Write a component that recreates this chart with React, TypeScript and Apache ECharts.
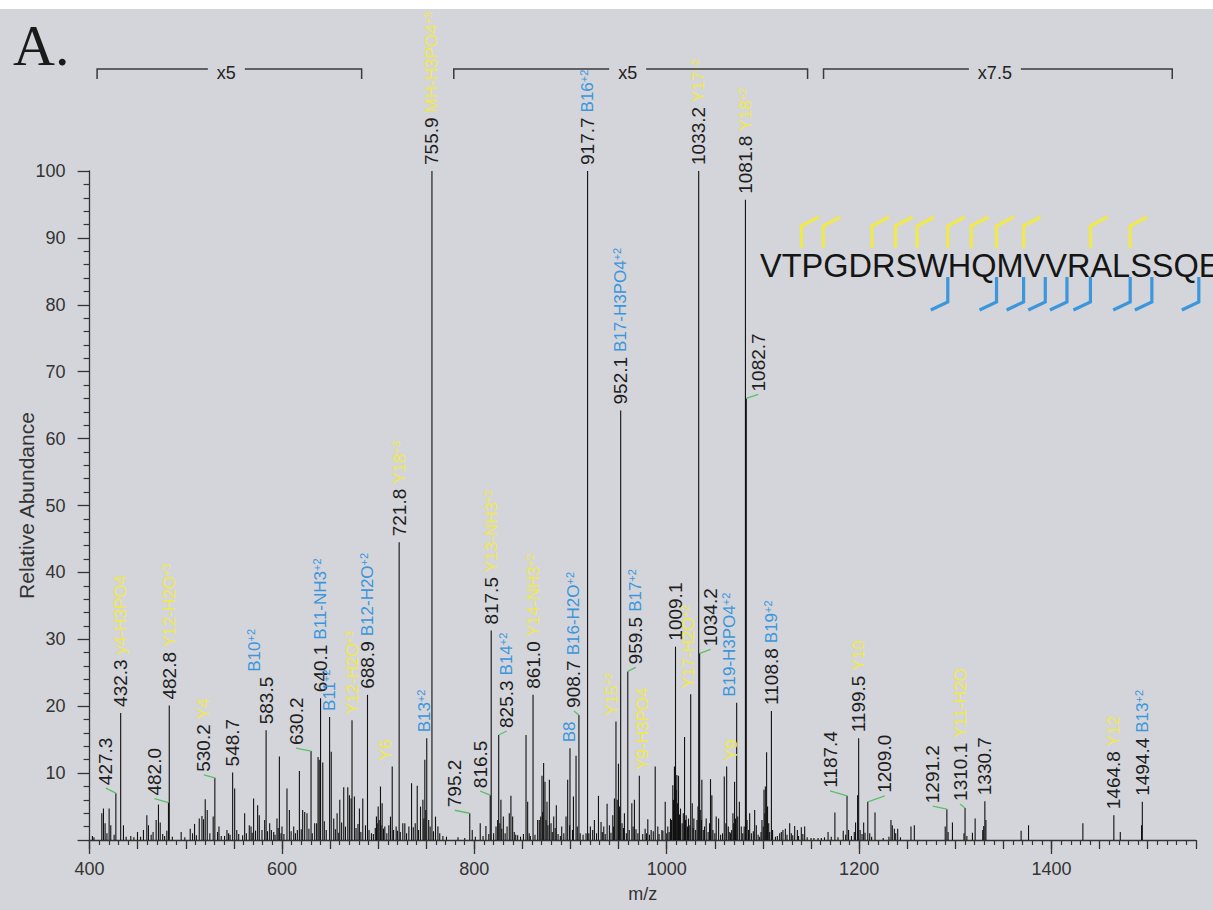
import React, { useEffect, useRef } from "react";
import * as echarts from "echarts";

const BG = "#d4d5da";
const YELLOW = "#efe84e";
const BLUE = "#3b96dc";
const GREEN = "#5cbf67";
const INK = "#1e1e1e";
const AXIS = "#333333";
const FONT = "'Liberation Sans', Arial, sans-serif";

// ---- labeled peaks ----
const labelMz = [427.3, 432.3, 482.0, 482.8, 530.2, 548.7, 583.5, 630.2, 640.1, 649.5, 672.8, 688.9, 714.6, 721.8, 750.5, 755.9, 795.2, 816.5, 817.5, 825.3, 861.0, 899.4, 908.7, 917.7, 947.2, 952.1, 959.5, 971.5, 1009.1, 1024.9, 1033.2, 1034.2, 1062.3, 1072.7, 1081.8, 1082.7, 1108.8, 1187.4, 1199.5, 1209.0, 1291.2, 1310.1, 1330.7, 1464.8, 1494.4];
const labelInt = [7.0, 19.0, 5.6, 20.1, 9.3, 10.1, 16.4, 13.3, 21.2, 18.4, 17.9, 21.7, 11.0, 44.5, 15.2, 100, 4.0, 6.7, 31.3, 15.7, 21.7, 13.7, 18.7, 100, 17.7, 64.2, 25.2, 9.6, 28.9, 21.8, 100, 27.9, 11.0, 20.5, 95.7, 66.0, 19.3, 6.6, 15.2, 5.7, 4.6, 4.8, 5.8, 3.7, 5.7];
const labelShowNum = [1, 1, 1, 1, 1, 1, 1, 1, 1, 0, 0, 1, 0, 1, 0, 1, 1, 1, 1, 1, 1, 0, 1, 1, 0, 1, 1, 0, 1, 0, 1, 1, 0, 0, 1, 1, 1, 1, 1, 1, 1, 1, 1, 1, 1];
const labelAnn = ["", "y4-H3PO4", "", "Y12-H2O", "Y4", "", "B10", "", "B11-NH3", "B11", "Y12-H2O", "B12-H2O", "Y6", "Y18", "B13", "MH-H3PO4", "", "", "Y13-NH3", "B14", "Y14-NH3", "B8", "B16-H2O", "B16", "Y15", "B17-H3PO4", "B17", "Y9-H3PO4", "", "Y17-H2O", "Y17", "", "Y9", "B19-H3PO4", "Y18", "", "B19", "", "Y10", "", "", "Y11-H2O", "", "Y12", "B13"];
const labelSup = ["", "", "", "+3", "", "", "+2", "", "+2", "+2", "+3", "+2", "", "+3", "+2", "+3", "", "", "+2", "+2", "+2", "", "+2", "+2", "+2", "+2", "+2", "", "", "+2", "+2", "", "", "+2", "+2", "", "+2", "", "", "", "", "", "", "", "+2"];
const labelIon = ["", "y", "", "y", "y", "", "b", "", "b", "b", "y", "b", "y", "y", "b", "y", "", "", "y", "b", "y", "b", "b", "b", "y", "b", "b", "y", "", "y", "y", "", "y", "b", "y", "", "b", "", "y", "", "", "y", "", "y", "b"];

// ---- unlabeled peaks ----
const noiseMz = [402.9, 404.5, 412.7, 414.4, 416.1, 418.0, 420.3, 422.0, 425.5, 435.2, 438.0, 442.8, 446.0, 449.8, 453.0, 456.0, 459.5, 461.2, 464.0, 466.0, 469.2, 471.6, 473.4, 476.0, 478.0, 480.3, 486.0, 495.2, 499.0, 504.6, 507.0, 509.1, 511.0, 514.0, 516.8, 518.5, 520.2, 522.3, 525.0, 528.5, 533.0, 534.5, 536.9, 540.3, 542.8, 544.5, 546.0, 550.8, 553.0, 555.0, 559.1, 561.2, 563.0, 566.0, 567.8, 569.0, 570.5, 572.5, 574.7, 576.4, 579.2, 582.0, 585.0, 587.2, 589.0, 591.4, 592.8, 594.8, 596.0, 597.3, 599.0, 600.0, 602.0, 605.2, 607.7, 609.5, 612.2, 614.0, 616.0, 618.1, 620.0, 621.5, 623.6, 626.0, 628.0, 631.5, 634.0, 636.0, 637.5, 638.7, 642.4, 644.0, 646.0, 651.2, 653.8, 655.5, 657.3, 659.0, 660.1, 662.0, 664.2, 666.0, 668.4, 670.1, 671.9, 675.3, 677.0, 679.0, 680.5, 682.0, 684.0, 686.8, 690.5, 693.0, 695.0, 697.0, 698.2, 699.0, 700.0, 701.0, 702.4, 703.0, 704.1, 705.5, 706.9, 709.0, 711.1, 712.8, 716.0, 718.7, 720.0, 723.0, 725.6, 727.7, 729.5, 731.9, 734.7, 736.5, 738.5, 740.6, 742.0, 744.0, 746.5, 747.5, 748.5, 749.5, 752.5, 754.0, 757.5, 759.6, 762.1, 764.0, 767.3, 771.0, 783.0, 790.0, 797.8, 801.0, 806.1, 809.0, 812.0, 815.0, 820.0, 822.5, 824.2, 826.5, 827.6, 828.5, 830.1, 832.0, 834.0, 836.3, 838.0, 839.8, 841.5, 843.0, 845.0, 848.0, 851.0, 853.7, 855.4, 857.0, 858.2, 863.0, 865.8, 867.5, 869.0, 870.3, 871.0, 872.0, 873.4, 874.5, 875.5, 876.5, 878.0, 879.7, 881.0, 882.5, 884.0, 885.2, 887.0, 889.4, 890.8, 893.0, 895.3, 897.0, 899.0, 902.0, 903.0, 905.7, 907.0, 910.0, 913.0, 916.1, 919.0, 920.6, 923.0, 924.8, 927.0, 929.0, 931.7, 933.0, 934.5, 936.0, 938.0, 940.4, 942.0, 943.9, 944.8, 945.6, 948.5, 949.8, 950.5, 951.0, 953.5, 955.0, 956.0, 958.0, 961.0, 963.7, 965.0, 966.4, 968.0, 970.0, 975.0, 977.5, 979.0, 980.3, 982.0, 983.8, 986.0, 988.0, 990.7, 992.0, 994.9, 996.0, 998.4, 1000.0, 1001.1, 1002.5, 1003.9, 1005.0, 1006.3, 1007.0, 1008.0, 1009.8, 1010.5, 1011.3, 1012.2, 1013.2, 1014.3, 1016.0, 1017.2, 1018.5, 1019.5, 1020.2, 1021.5, 1022.6, 1024.0, 1026.5, 1027.5, 1028.2, 1030.0, 1031.5, 1032.5, 1034.8, 1036.0, 1036.5, 1038.0, 1039.3, 1041.0, 1043.0, 1044.5, 1045.5, 1046.9, 1048.0, 1050.0, 1051.4, 1053.9, 1056.0, 1058.0, 1059.8, 1061.5, 1064.0, 1065.5, 1066.4, 1067.5, 1068.8, 1069.6, 1070.5, 1071.5, 1073.8, 1075.5, 1077.5, 1079.0, 1080.5, 1083.5, 1085.0, 1086.2, 1088.0, 1090.0, 1091.4, 1093.1, 1095.0, 1096.6, 1098.0, 1099.0, 1100.3, 1101.1, 1102.0, 1102.5, 1103.8, 1104.8, 1106.0, 1107.0, 1110.0, 1113.0, 1115.0, 1117.4, 1119.1, 1120.8, 1123.3, 1125.0, 1127.8, 1129.5, 1131.0, 1133.0, 1135.8, 1137.0, 1139.9, 1141.5, 1143.4, 1146.0, 1150.0, 1153.0, 1157.3, 1160.7, 1164.0, 1167.7, 1171.0, 1174.8, 1178.0, 1183.5, 1186.0, 1189.0, 1192.0, 1195.0, 1196.3, 1198.4, 1201.0, 1203.0, 1204.7, 1206.1, 1211.0, 1213.0, 1216.5, 1225.0, 1231.0, 1233.1, 1234.5, 1236.6, 1238.0, 1240.1, 1243.0, 1253.9, 1257.4, 1289.5, 1292.5, 1297.0, 1309.0, 1312.0, 1317.8, 1320.6, 1328.5, 1329.5, 1331.8, 1368.4, 1376.1, 1432.6, 1471.5, 1493.6];
const noiseInt = [0.6, 0.4, 4.0, 4.7, 2.5, 1.0, 4.7, 2.2, 0.8, 2.2, 0.5, 0.6, 0.4, 1.2, 0.5, 1.5, 3.7, 2.2, 0.8, 1.2, 3.0, 5.3, 2.6, 0.9, 0.6, 1.4, 0.5, 1.2, 0.4, 1.7, 1.0, 2.4, 0.7, 3.2, 3.6, 3.1, 6.1, 4.5, 1.0, 3.5, 1.2, 2.0, 0.6, 0.6, 1.5, 1.0, 0.8, 7.7, 1.5, 0.9, 0.7, 4.0, 1.0, 2.2, 2.0, 1.1, 6.2, 1.4, 5.2, 3.7, 1.5, 3.0, 1.3, 2.5, 1.5, 1.2, 0.8, 3.2, 1.8, 12.5, 1.0, 2.0, 0.9, 7.7, 4.5, 1.3, 2.0, 1.0, 1.5, 10.3, 1.6, 4.5, 4.2, 4.0, 1.7, 1.0, 2.5, 2.5, 12.4, 12.0, 11.6, 2.8, 1.5, 13.2, 3.2, 1.6, 4.0, 1.1, 6.0, 2.6, 7.9, 2.0, 7.9, 6.7, 6.2, 6.5, 1.8, 2.4, 4.7, 1.2, 6.2, 2.2, 1.5, 1.0, 0.9, 1.8, 3.5, 2.5, 5.0, 3.0, 8.0, 2.2, 5.5, 1.7, 2.0, 1.0, 2.2, 3.5, 1.5, 2.0, 1.4, 1.2, 2.5, 2.5, 1.0, 2.0, 8.5, 1.9, 2.5, 8.1, 1.5, 5.0, 6.0, 3.2, 12.0, 4.5, 3.0, 2.0, 1.3, 3.5, 2.0, 1.0, 0.6, 0.5, 0.4, 0.3, 1.5, 0.5, 2.5, 0.6, 2.1, 0.9, 1.0, 2.0, 3.0, 2.5, 6.0, 1.7, 3.5, 1.0, 2.0, 4.0, 6.6, 3.5, 1.2, 0.8, 0.7, 0.5, 0.9, 15.7, 5.7, 1.0, 0.6, 0.8, 3.0, 3.0, 3.5, 9.6, 4.2, 11.5, 8.7, 3.0, 5.7, 2.2, 9.0, 2.5, 1.2, 3.5, 1.8, 5.2, 0.9, 0.6, 2.0, 1.0, 3.5, 9.0, 2.2, 1.5, 6.5, 12.6, 2.0, 1.0, 0.8, 1.0, 1.0, 2.0, 1.5, 3.0, 1.0, 6.6, 2.7, 1.2, 2.0, 0.9, 5.4, 2.2, 1.1, 3.7, 2.0, 6.2, 6.0, 11.4, 4.5, 5.0, 2.5, 1.8, 4.0, 1.0, 1.5, 5.5, 2.0, 6.0, 1.6, 1.0, 0.9, 1.7, 1.0, 3.1, 0.8, 1.5, 1.3, 11.0, 2.0, 0.9, 1.5, 1.4, 5.7, 1.0, 2.0, 1.2, 3.2, 3.0, 8.2, 6.0, 11.0, 7.5, 9.7, 5.5, 9.6, 3.8, 4.7, 2.5, 4.0, 15.4, 3.0, 3.7, 2.0, 3.2, 2.2, 5.5, 1.8, 3.2, 1.5, 3.0, 5.0, 4.5, 3.0, 9.0, 1.5, 2.0, 3.2, 1.2, 2.5, 9.1, 6.7, 1.5, 1.0, 3.5, 3.2, 0.8, 1.0, 9.5, 2.5, 2.0, 1.2, 1.0, 1.5, 4.0, 2.5, 8.7, 3.2, 3.5, 5.7, 2.0, 1.0, 2.0, 3.0, 1.5, 4.0, 1.0, 1.3, 4.5, 2.2, 0.8, 0.5, 1.2, 3.0, 2.0, 7.5, 4.0, 8.0, 13.1, 5.0, 2.5, 1.2, 1.5, 0.5, 0.6, 1.0, 1.2, 1.5, 1.7, 0.8, 2.5, 1.0, 0.7, 2.1, 1.5, 0.6, 1.9, 0.9, 2.0, 0.4, 0.3, 0.3, 0.3, 0.3, 0.4, 1.2, 0.5, 4.1, 0.4, 1.4, 0.8, 1.5, 0.6, 1.2, 2.6, 6.7, 1.5, 0.9, 2.6, 1.1, 1.0, 0.5, 4.1, 0.3, 0.5, 3.0, 2.2, 1.7, 1.0, 1.7, 0.4, 2.0, 2.2, 2.0, 1.2, 2.6, 1.0, 0.6, 1.1, 3.2, 1.5, 2.1, 3.0, 1.4, 2.2, 2.5, 1.2, 2.2];

// ---- zoom brackets ----
const bracketStart = [407.8, 778.6, 1163.0];
const bracketEnd = [682.8, 1146.4, 1525.5];
const bracketLabel = ["x5", "x5", "x7.5"];

// ---- peptide sequence and fragment sites ----
const sequence = "VTPGDRSWHQMVVRALSSQE";
const yIonSites = [2, 3, 5, 6, 7, 8, 9, 10, 11, 14, 16];
const bIonSites = [8, 10, 11, 12, 13, 14, 16, 17, 19];

// ---- label placement (pixel offsets, layout only) ----
const labelLayout: Record<string, { dx?: number; dy?: number; leader?: boolean; annDx?: number }> = {
  "427.3": { dx: -10, dy: -5, leader: true },
  "482.0": { dx: -14, dy: -4, leader: true },
  "530.2": { dx: -11, dy: -3, leader: true },
  "583.5": { annDx: -12 },
  "630.2": { dx: -15, dy: -3, leader: true },
  "714.6": { dx: -7 },
  "750.5": { dx: -2 },
  "795.2": { dx: -15, dy: -3, leader: true },
  "816.5": { dx: -10, dy: -4, leader: true },
  "825.3": { dx: 8, dy: -4, leader: true },
  "908.7": { dx: -5, dy: -4, leader: true },
  "947.2": { dx: -4 },
  "959.5": { dx: 8, dy: -4, leader: true },
  "971.5": { dx: 3 },
  "1024.9": { dx: -2 },
  "1034.2": { dx: 11, dy: -4, leader: true },
  "1062.3": { dx: 5 },
  "1072.7": { dx: -7 },
  "1082.7": { dx: 12, dy: -4, leader: true },
  "1187.4": { dx: -17, dy: -5, leader: true },
  "1209.0": { dx: 17, dy: -6, leader: true },
  "1291.2": { dx: -14, dy: -3, leader: true },
  "1310.1": { dx: -5, dy: -4, leader: true },
};

export default function App() {
  const ref = useRef<HTMLDivElement>(null);

  useEffect(() => {
    const el = ref.current;
    if (!el) return;
    const chart = echarts.init(el, null, { renderer: "svg" });
    const canvas = document.createElement("canvas");
    const ctx = canvas.getContext("2d") as CanvasRenderingContext2D;
    const measure = (t: string, font: string) => {
      ctx.font = font;
      return ctx.measureText(t).width;
    };

    const NUM_FONT = `19px ${FONT}`;
    const allPeaks = [
      ...noiseMz.map((m, i) => [m, noiseInt[i]]),
      ...labelMz.map((m, i) => [m, labelInt[i]]),
    ];

    // sequence graphic
    const SEQ_FONT = `32.5px ${FONT}`;
    const seqX = 760;
    const seqY = 257;
    const graphics: any[] = [
      {
        type: "text",
        x: 13,
        y: 36,
        style: { text: "A.", font: "58px 'Liberation Serif', 'Times New Roman', serif", fill: "#1a1a1a", verticalAlign: "middle" },
      },
      {
        type: "text",
        x: seqX,
        y: seqY,
        style: { text: sequence, font: SEQ_FONT, fill: "#151515", verticalAlign: "middle" },
      },
    ];
    yIonSites.forEach((k) => {
      const bx = seqX + measure(sequence.slice(0, k), SEQ_FONT);
      graphics.push({
        type: "polyline",
        shape: { points: [[bx, 239], [bx, 217], [bx + 17, 208]] },
        style: { stroke: YELLOW, lineWidth: 3.2, fill: "none" },
      });
    });
    bIonSites.forEach((k) => {
      const bx = seqX + measure(sequence.slice(0, k), SEQ_FONT);
      graphics.push({
        type: "polyline",
        shape: { points: [[bx, 268], [bx, 293], [bx - 17, 301]] },
        style: { stroke: BLUE, lineWidth: 3.2, fill: "none" },
      });
    });

    const option: any = {
      animation: false,
      backgroundColor: BG,
      textStyle: { fontFamily: FONT },
      grid: { left: 89.6, right: 17.2, top: 162, bottom: 70, containLabel: false, outerBoundsMode: "none" },
      xAxis: [
        {
          type: "value",
          min: 400,
          max: 1550,
          interval: 200,
          position: "bottom",
          name: "m/z",
          nameLocation: "middle",
          nameGap: 45,
          nameMoveOverlap: false,
          nameTextStyle: { fontSize: 18, color: AXIS, fontFamily: FONT },
          axisLine: { show: true, lineStyle: { color: AXIS, width: 1.3 } },
          axisTick: { show: true, length: 14, lineStyle: { color: AXIS, width: 1.3 } },
          axisLabel: {
            show: true,
            fontSize: 18,
            color: AXIS,
            margin: 20,
            fontFamily: FONT,
            showMaxLabel: false,
            formatter: (v: number) => String(v),
          },
          splitLine: { show: false },
        },
        {
          type: "value",
          min: 400,
          max: 1550,
          interval: 50,
          position: "bottom",
          axisLine: { show: false },
          axisTick: { show: true, length: 9, lineStyle: { color: AXIS, width: 1.3 } },
          minorTick: { show: true, splitNumber: 5, length: 5, lineStyle: { color: AXIS, width: 1.2 } },
          axisLabel: { show: false },
          splitLine: { show: false },
          minorSplitLine: { show: false },
        },
      ],
      yAxis: {
        type: "value",
        min: 0,
        max: 100,
        interval: 10,
        name: "Relative Abundance",
        nameLocation: "middle",
        nameGap: 53,
        nameMoveOverlap: false,
        nameTextStyle: { fontSize: 21, color: AXIS, fontFamily: FONT },
        axisLine: { show: true, lineStyle: { color: AXIS, width: 1.3 } },
        axisTick: { show: true, length: 12, lineStyle: { color: AXIS, width: 1.3 } },
        minorTick: { show: true, splitNumber: 5, length: 6, lineStyle: { color: AXIS, width: 1.2 } },
        axisLabel: { fontSize: 18, color: AXIS, margin: 24, showMinLabel: false, fontFamily: FONT },
        splitLine: { show: false },
      },
      graphic: graphics,
      series: [
        {
          type: "custom",
          name: "peaks",
          xAxisIndex: 0,
          yAxisIndex: 0,
          data: allPeaks,
          renderItem: (_p: any, api: any) => {
            const a = api.coord([api.value(0), 0]);
            const b = api.coord([api.value(0), api.value(1)]);
            return {
              type: "line",
              shape: { x1: a[0], y1: a[1], x2: b[0], y2: b[1] },
              style: { stroke: "#111", lineWidth: 1.1 },
            };
          },
        },
        {
          type: "custom",
          name: "labels",
          xAxisIndex: 0,
          yAxisIndex: 0,
          clip: false,
          data: labelMz.map((m, i) => [m, labelInt[i]]),
          renderItem: (params: any, api: any) => {
            const i = params.dataIndex;
            const mz = labelMz[i];
            const key = mz.toFixed(1);
            const lay = labelLayout[key] || {};
            const p = api.coord([api.value(0), api.value(1)]);
            const dx = lay.dx || 0;
            const dy = lay.dy || 0;
            const children: any[] = [];
            const lx = p[0] + dx;
            let base: number;
            if (lay.leader) {
              children.push({
                type: "polyline",
                shape: { points: [[p[0], p[1]], [p[0] + dx, p[1] + dy]] },
                style: { stroke: GREEN, lineWidth: 1.3, fill: "none" },
              });
              base = p[1] + dy - 3;
            } else {
              base = p[1] - 6;
            }
            if (labelShowNum[i]) {
              children.push({
                type: "text",
                x: lx,
                y: base,
                rotation: Math.PI / 2,
                style: { text: key, font: NUM_FONT, fill: INK, align: "left", verticalAlign: "middle" },
              });
              base -= measure(key, NUM_FONT) + 5;
            }
            if (labelAnn[i]) {
              const col = labelIon[i] === "b" ? BLUE : YELLOW;
              const txt = `{a|${labelAnn[i]}}` + (labelSup[i] ? `{s|${labelSup[i]}}` : "");
              children.push({
                type: "text",
                x: lx + (lay.annDx || 0),
                y: base,
                rotation: Math.PI / 2,
                style: {
                  text: txt,
                  align: "left",
                  verticalAlign: "middle",
                  rich: {
                    a: { fontSize: 17, fontFamily: FONT, fill: col, lineHeight: 18 },
                    s: { fontSize: 11, fontFamily: FONT, fill: col, verticalAlign: "top", lineHeight: 18 },
                  },
                },
              });
            }
            return { type: "group", children };
          },
        },
        {
          type: "custom",
          name: "brackets",
          xAxisIndex: 0,
          yAxisIndex: 0,
          clip: false,
          encode: { x: [0, 1], y: 2 },
          data: bracketStart.map((s, i) => [s, bracketEnd[i], 0]),
          renderItem: (params: any, api: any) => {
            const i = params.dataIndex;
            const x1 = api.coord([api.value(0), 0])[0];
            const x2 = api.coord([api.value(1), 0])[0];
            const y = 60;
            return {
              type: "group",
              children: [
                {
                  type: "polyline",
                  shape: { points: [[x1, y + 10], [x1, y], [x2, y], [x2, y + 10]] },
                  style: { stroke: "#3a3a3a", lineWidth: 1.5, fill: "none" },
                },
                {
                  type: "text",
                  x: (x1 + x2) / 2 - 3,
                  y: y + 4,
                  style: {
                    text: bracketLabel[i],
                    font: `18px ${FONT}`,
                    fill: "#222",
                    align: "center",
                    verticalAlign: "middle",
                    backgroundColor: BG,
                    padding: [0, 9],
                  },
                },
              ],
            };
          },
        },
      ],
    };

    chart.setOption(option);
    return () => {
      chart.dispose();
    };
  }, []);

  return (
    <div
      ref={ref}
      style={{ position: "fixed", left: 0, top: 9, width: 1213, height: 901, background: BG }}
    />
  );
}
